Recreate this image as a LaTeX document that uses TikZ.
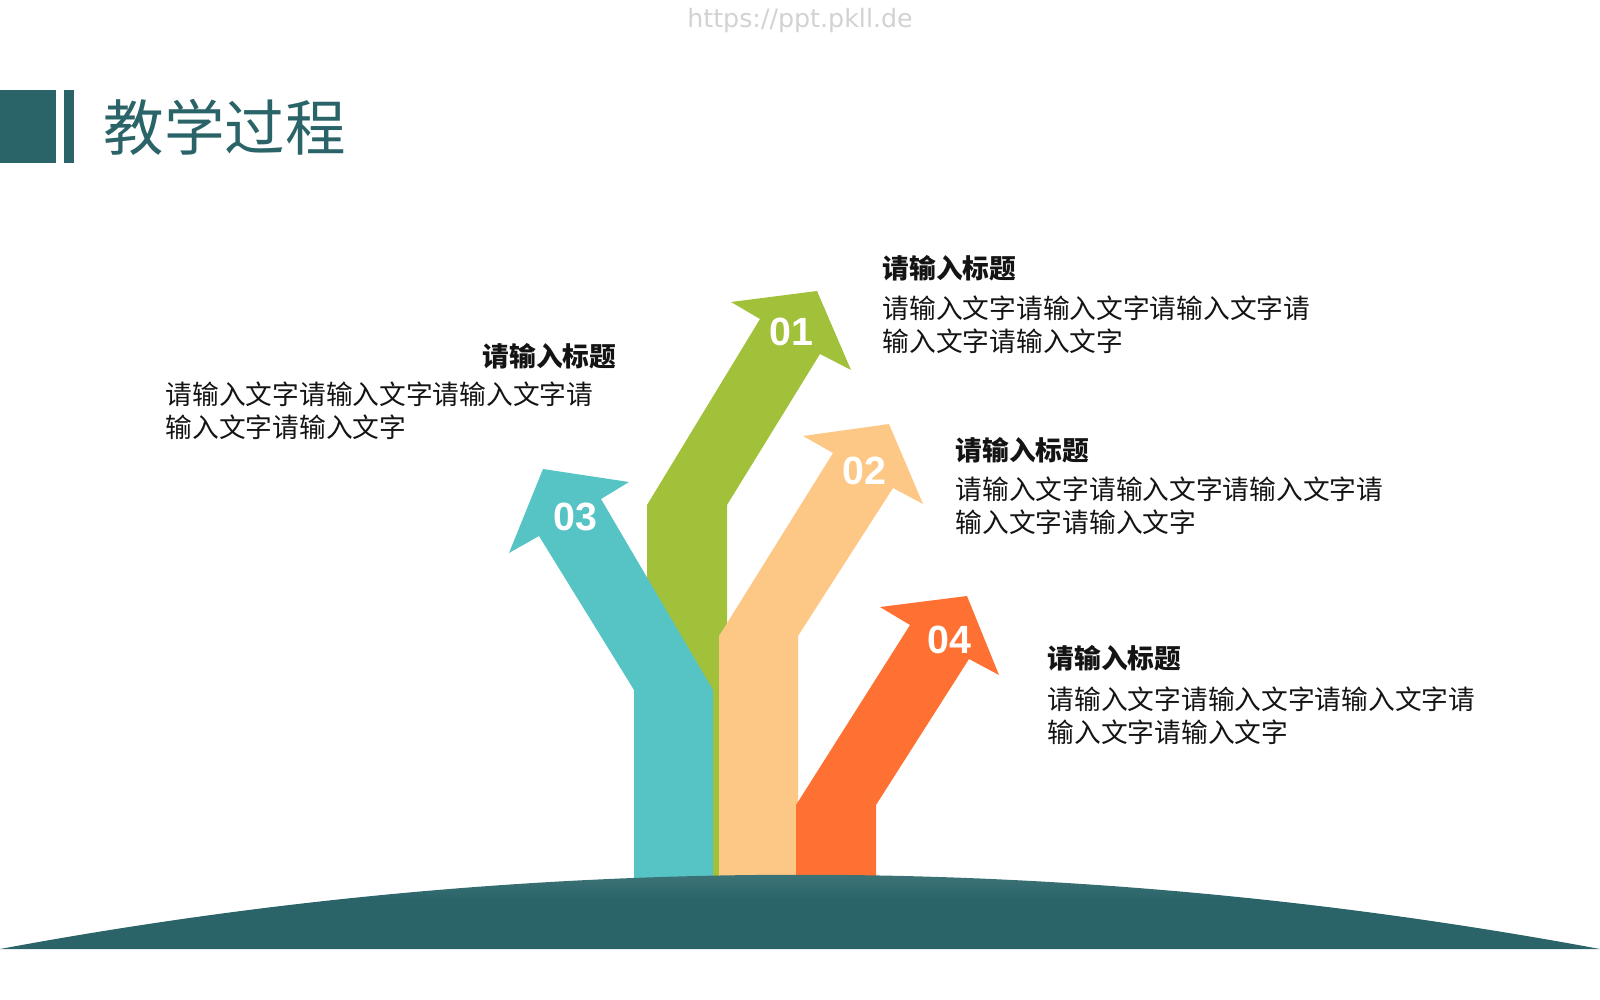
\documentclass[tikz,border=0pt]{standalone}
\usepackage{fontspec}
\setmainfont{Liberation Sans}
\newfontfamily\cjk{Noto Sans CJK SC}
\newfontfamily\wmfont{DejaVu Sans}
\usepackage{xcolor}
\usetikzlibrary{positioning}
\definecolor{darkteal}{HTML}{2A6469}
\definecolor{domelight}{HTML}{4F8285}
\definecolor{tealarrow}{HTML}{56C4C5}
\definecolor{greenarrow}{HTML}{A1C13A}
\definecolor{sandarrow}{HTML}{FDC886}
\definecolor{orangearrow}{HTML}{FF7033}

\begin{document}
\begin{tikzpicture}[
    x=0.01cm, y=-0.01cm,
    head/.style={inner sep=0, anchor=north west, font=\cjk\bfseries\fontsize{7.6}{9}\selectfont, text=black!92},
    body/.style={inner sep=0, anchor=north west, align=left, font=\cjk\fontsize{7.6}{9.3}\selectfont, text=black!92},
    num/.style={inner sep=0, text=white, font=\bfseries\fontsize{11.2}{13}\selectfont}
]
    \useasboundingbox (0,0) rectangle (1600,1000);

    % --- Header ---
    \node[inner sep=0, text=gray!35, font=\wmfont\fontsize{7.2}{8}\selectfont] (web) at (800,21) {https://ppt.pkll.de};
    \fill[darkteal] (0,90) rectangle (56,163);
    \fill[darkteal] (64,90) rectangle (74,163);
    \node[inner sep=0, anchor=north west, text=darkteal, font=\cjk\fontsize{17.2}{20}\selectfont] (title) at (103,98) {教学过程};

    % --- Arrows ---
    % 01
    \fill[greenarrow] (647,900) -- (647,505) -- (760,319) -- (731,302) -- (817,291)
        -- (851,370) -- (820,354) -- (727,505) -- (727,900) -- cycle;
    % 03
    \fill[tealarrow] (713,900) -- (713,690) -- (601,499) -- (629,482) -- (543,469)
        -- (509,553) -- (539,536) -- (634,690) -- (634,900) -- cycle;
    % 02
    \fill[sandarrow] (719,900) -- (719,636) -- (833,453) -- (803,436) -- (889,424)
        -- (923,504) -- (893,488) -- (798,636) -- (798,900) -- cycle;
    % 04
    \fill[orangearrow] (796,900) -- (796,805) -- (910,625) -- (880,607) -- (967,596)
        -- (999,675) -- (969,659) -- (876,805) -- (876,900) -- cycle;

    \node[num] (n1) at (791,332) {01};
    \node[num] (n2) at (864,471) {02};
    \node[num] (n3) at (575,517) {03};
    \node[num] (n4) at (949,640) {04};

    % --- Ground ---
    \shade[top color=domelight, bottom color=darkteal, middle color=darkteal]
        (0,949) .. controls (533,850) and (1067,850) .. (1600,949) -- cycle;

    % --- Texts ---
    \node[head] (hd1) at (882,255) {请输入标题};
    \node[body, below=0.13cm of hd1.south west, anchor=north west] (tx1) {请输入文字请输入文字请输入文字请\\输入文字请输入文字};

    \node[head, anchor=north east] (hd2) at (617,343) {请输入标题};
    \node[body] (tx2) at (165,381) {请输入文字请输入文字请输入文字请\\输入文字请输入文字};

    \node[head] (hd3) at (955,437) {请输入标题};
    \node[body, below=0.12cm of hd3.south west, anchor=north west] (tx3) {请输入文字请输入文字请输入文字请\\输入文字请输入文字};

    \node[head] (hd4) at (1047,645) {请输入标题};
    \node[body, below=0.14cm of hd4.south west, anchor=north west] (tx4) {请输入文字请输入文字请输入文字请\\输入文字请输入文字};

\end{tikzpicture}
\end{document}
